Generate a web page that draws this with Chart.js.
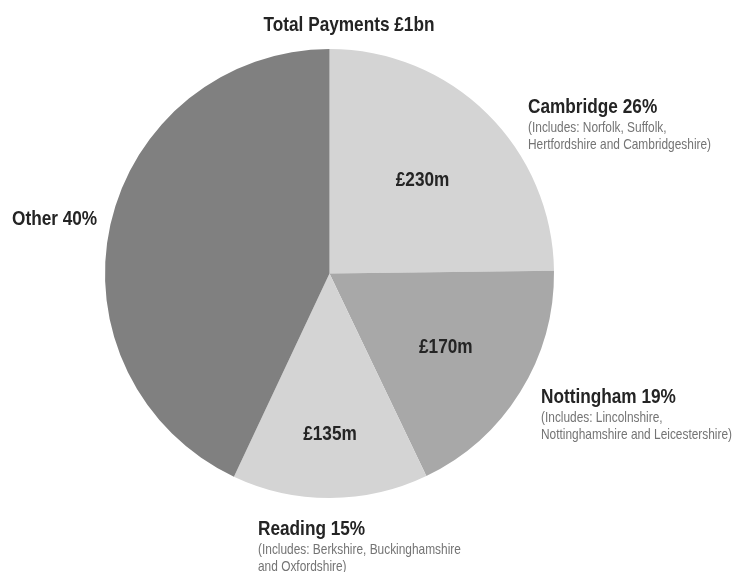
<!DOCTYPE html>
<html>
<head>
<meta charset="utf-8">
<script src="https://cdn.jsdelivr.net/npm/chart.js@4.4.1/dist/chart.umd.min.js"></script>
<style>
  html, body { margin: 0; padding: 0; background: #ffffff; }
  #wrap { width: 732px; height: 572px; }
</style>
</head>
<body>
<div id="wrap"><canvas id="c" width="732" height="572"></canvas></div>
<script>
// ---- data ----
const chartTitle = 'Total Payments £1bn';
const categories = ['Cambridge', 'Nottingham', 'Reading', 'Other'];
const percentLabels = ['26%', '19%', '15%', '40%'];
// slice shares as drawn in the picture (angles measured)
const sliceShares = [24.8, 18.1, 14.1, 43.0];
const valueLabels = ['£230m', '£170m', '£135m', ''];
const includesLabels = [
  ['(Includes: Norfolk, Suffolk,', 'Hertfordshire and Cambridgeshire)'],
  ['(Includes: Lincolnshire,', 'Nottinghamshire and Leicestershire)'],
  ['(Includes: Berkshire, Buckinghamshire', 'and Oxfordshire)'],
  []
];
const sliceColors = ['#d4d4d4', '#a8a8a8', '#d4d4d4', '#808080'];

// ---- font detection: Arial Narrow metric-compatible face ----
function narrowAvailable() {
  const cv = document.createElement('canvas').getContext('2d');
  const s = 'Cambridgeshire Nottingham 123';
  cv.font = 'bold 20px monospace';
  const a = cv.measureText(s).width;
  cv.font = 'bold 20px "Liberation Sans Narrow", monospace';
  const b = cv.measureText(s).width;
  return Math.abs(a - b) > 0.5;
}
const HAS_NARROW = narrowAvailable();
const FAMILY = HAS_NARROW ? '"Liberation Sans Narrow", "Liberation Sans", Arial, sans-serif'
                          : '"Liberation Sans", Arial, sans-serif';
const XSCALE = HAS_NARROW ? 1 : 0.82;

function drawText(ctx, text, x, y, size, weight, color, align) {
  ctx.save();
  ctx.font = weight + ' ' + size + 'px ' + FAMILY;
  ctx.fillStyle = color;
  ctx.textBaseline = 'alphabetic';
  ctx.textAlign = 'left';
  const w = ctx.measureText(text).width * XSCALE;
  let left = x;
  if (align === 'center') left = x - w / 2;
  else if (align === 'right') left = x - w;
  ctx.translate(left, y);
  ctx.scale(XSCALE, 1);
  ctx.fillText(text, 0, 0);
  ctx.restore();
}

const labelPlugin = {
  id: 'labelPlugin',
  afterDraw(chart, args, opts) {
    const ctx = chart.ctx;
    const meta = chart.getDatasetMeta(0);
    const bold = '#242424';
    const grey = '#747474';
    // title
    drawText(ctx, chartTitle, opts.titlePos[0], opts.titlePos[1], 21, 'bold', bold, 'center');
    // value labels inside slices, placed along slice mid-angle
    meta.data.forEach((arc, i) => {
      if (!valueLabels[i]) return;
      const p = arc.getProps(['x', 'y', 'startAngle', 'endAngle', 'outerRadius'], true);
      const mid = (p.startAngle + p.endAngle) / 2;
      const r = p.outerRadius * opts.valueRadius[i];
      const x = p.x + Math.cos(mid) * r;
      const y = p.y + Math.sin(mid) * r + 7;
      drawText(ctx, valueLabels[i], x, y, 21, 'bold', bold, 'center');
    });
    // outside category labels
    categories.forEach((cat, i) => {
      const pos = opts.outside[i];
      drawText(ctx, cat + ' ' + percentLabels[i], pos[0], pos[1], 21, 'bold', bold, 'left');
      includesLabels[i].forEach((line, j) => {
        drawText(ctx, line, pos[0], pos[1] + 19 + j * 17, 14.5, 'normal', grey, 'left');
      });
    });
  }
};

new Chart(document.getElementById('c'), {
  type: 'pie',
  data: {
    labels: categories,
    datasets: [{
      data: sliceShares,
      backgroundColor: sliceColors,
      borderWidth: 0,
      hoverOffset: 0
    }]
  },
  options: {
    responsive: false,
    animation: false,
    events: [],
    layout: { padding: { left: 105, right: 178, top: 49, bottom: 74 } },
    plugins: {
      legend: { display: false },
      tooltip: { enabled: false },
      title: { display: false },
      labelPlugin: {
        titlePos: [349, 31],
        valueRadius: [0.59, 0.61, 0.71, 0.6],
        outside: [[528, 113], [541, 403], [258, 535], [12, 225]]
      }
    }
  },
  plugins: [labelPlugin]
});
</script>
</body>
</html>
